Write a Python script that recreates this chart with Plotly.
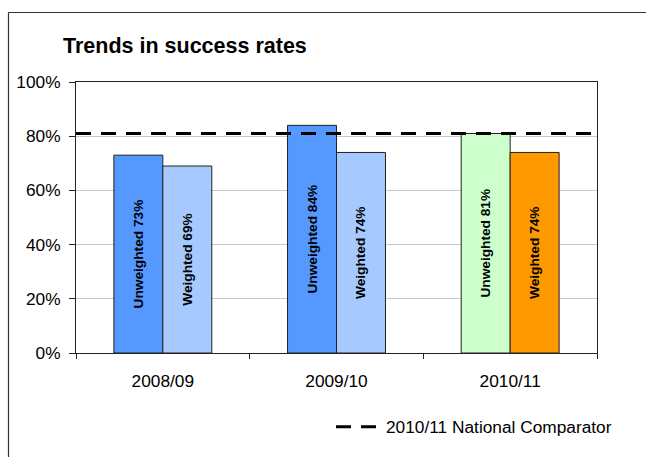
import plotly.graph_objects as go

years = ["2008/09", "2009/10", "2010/11"]
unweighted = [73, 84, 81]
weighted = [69, 74, 74]
comparator = 81
unweighted_colors = ["#5599FF", "#5599FF", "#CCFFCC"]
weighted_colors = ["#A6CAFF", "#A6CAFF", "#FF9900"]
y_ticks = [0, 20, 40, 60, 80, 100]
y_tick_labels = ["0%", "20%", "40%", "60%", "80%", "100%"]

FONT = "Liberation Sans, Arial, sans-serif"
FS = 17.3

W, H = 646, 457
PL, PR, PT, PB = 76, 597, 82, 353   # plot area in figure pixels
pw, ph = PR - PL, PB - PT

def px(x):
    return (x - PL) / pw

def py(y):
    return (PB - y) / ph

fig = go.Figure()
fig.add_trace(go.Bar(
    x=years, y=unweighted, name="Unweighted",
    marker=dict(color=unweighted_colors, line=dict(color="#222222", width=1)),
    texttemplate="<b>Unweighted %{y}%</b>", textposition="inside",
    insidetextanchor="middle", textangle=-90,
    textfont=dict(family=FONT, size=13.7, color="black"),
    showlegend=False, hoverinfo="skip",
))
fig.add_trace(go.Bar(
    x=years, y=weighted, name="Weighted",
    marker=dict(color=weighted_colors, line=dict(color="#222222", width=1)),
    texttemplate="<b>Weighted %{y}%</b>", textposition="inside",
    insidetextanchor="middle", textangle=-90,
    textfont=dict(family=FONT, size=13.7, color="black"),
    showlegend=False, hoverinfo="skip",
))
fig.add_trace(go.Scatter(
    x=[0, 1], y=[comparator, comparator], xaxis="x2", mode="lines",
    name="2010/11 National Comparator",
    line=dict(color="black", width=3, dash="15px,10px"),
    hoverinfo="skip",
))

# outer chart border: only its left and top edges fall inside the picture
fig.add_shape(type="line", xref="paper", yref="paper",
              x0=px(8.5), y0=py(12.5), x1=px(700), y1=py(12.5),
              line=dict(color="#333333", width=1.2), layer="below")
fig.add_shape(type="line", xref="paper", yref="paper",
              x0=px(8.5), y0=py(12.5), x1=px(8.5), y1=py(500),
              line=dict(color="#333333", width=1.2), layer="below")

fig.update_layout(
    width=W, height=H,
    margin=dict(l=PL, r=W - PR, t=PT, b=H - PB, autoexpand=False),
    paper_bgcolor="white", plot_bgcolor="white",
    font=dict(family=FONT, size=FS, color="black"),
    barmode="group", bargap=0.436, bargroupgap=0,
    title=dict(text="<b>Trends in success rates</b>", x=63 / W, xanchor="left",
               y=1 - 45 / H, yanchor="middle",
               font=dict(family=FONT, size=21.5, color="black")),
    xaxis=dict(type="category", showline=True, linecolor="#222222", linewidth=1,
               mirror=True, ticks="outside", ticklen=5, tickcolor="#222222",
               tickson="boundaries", showgrid=False, ticklabelstandoff=12,
               tickfont=dict(size=FS)),
    xaxis2=dict(overlaying="x", range=[0, 1], visible=False),
    yaxis=dict(range=[0, 100], tickvals=y_ticks, ticktext=y_tick_labels,
               showline=True, linecolor="#222222", linewidth=1, mirror=True,
               ticks="outside", ticklen=6, tickcolor="#222222",
               showgrid=True, gridcolor="#C8C8C8", gridwidth=1,
               zeroline=False, ticklabelstandoff=5, tickfont=dict(size=FS)),
    legend=dict(x=px(331), xanchor="left", y=py(427), yanchor="middle",
                itemwidth=45, bgcolor="rgba(0,0,0,0)", font=dict(size=FS)),
)

fig.write_html(
    "out.html",
    config={"displayModeBar": False},
    post_script="document.documentElement.style.overflow='hidden';"
                "document.body.style.margin='0';document.body.style.overflow='hidden';",
)
